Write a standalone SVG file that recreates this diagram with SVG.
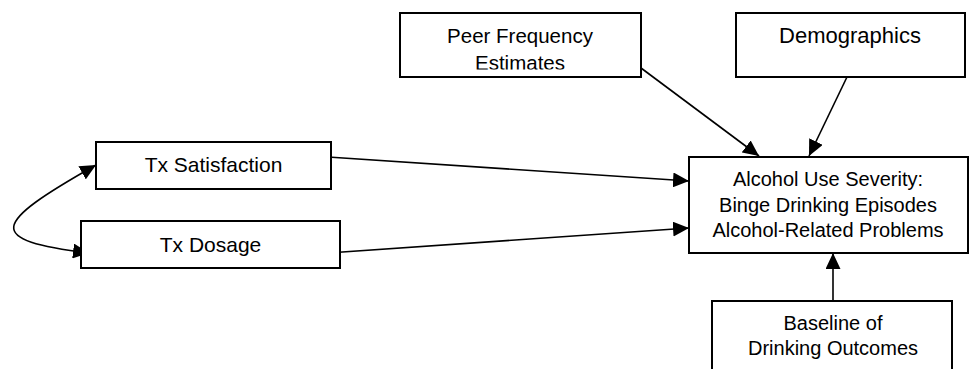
<svg xmlns="http://www.w3.org/2000/svg" width="969" height="369" viewBox="0 0 969 369">
<style>
.box{fill:#fff;stroke:#000;stroke-width:2}
.frame{fill:none;stroke:#000;stroke-width:2}
.lbl{font-family:"Liberation Sans",Arial,sans-serif;font-size:20px;fill:#000;text-anchor:middle}
.tx{font-size:21px}
.peer{font-size:20.5px}
.demo{font-size:22px}
.edge{fill:none;stroke:#000;stroke-width:1.6}
</style>
<defs>
<marker id="ah" viewBox="0 0 16 15" refX="16" refY="7.5" markerWidth="16" markerHeight="15" markerUnits="userSpaceOnUse" orient="auto-start-reverse">
<path d="M0,0 L16,7.5 L0,15 z" fill="#000"/>
</marker>
<clipPath id="peerClip"><rect x="400" y="13" width="241" height="56.5"/></clipPath>
</defs>
<rect width="969" height="369" fill="#fff"/>
<g id="connectors">
<path class="edge" d="M96,165 C -10,225 -15,240 89,253" marker-start="url(#ah)" marker-end="url(#ah)"/>
<path class="edge" d="M328,157 L689,181" marker-end="url(#ah)"/>
<path class="edge" d="M328,253 L689,228" marker-end="url(#ah)"/>
<path class="edge" d="M641,68 L759,156" marker-end="url(#ah)"/>
<path class="edge" d="M847,77 L809,156" marker-end="url(#ah)"/>
<path class="edge" d="M833,301 L833,253" marker-end="url(#ah)"/>
</g>
<g id="peer">
<rect class="box" x="400" y="13" width="241" height="64"/>
<g clip-path="url(#peerClip)">
<text class="lbl peer" x="520" y="43">Peer Frequency</text>
<text class="lbl peer" x="520" y="70">Estimates</text>
</g>
</g>
<g id="demographics">
<rect class="box" x="736" y="13" width="229" height="64"/>
<text class="lbl demo" x="850" y="43">Demographics</text>
</g>
<g id="tx-satisfaction">
<rect class="box" x="96" y="142" width="235" height="47"/>
<text class="lbl tx" x="213.5" y="172">Tx Satisfaction</text>
</g>
<g id="tx-dosage">
<rect class="box" x="81" y="221" width="259" height="47"/>
<text class="lbl tx" x="210.5" y="252">Tx Dosage</text>
</g>
<g id="alcohol">
<rect class="box" x="689" y="157" width="279" height="96"/>
<text class="lbl" x="828" y="186">Alcohol Use Severity:</text>
<text class="lbl" x="828" y="212">Binge Drinking Episodes</text>
<text class="lbl" x="828" y="237">Alcohol-Related Problems</text>
</g>
<g id="baseline">
<rect class="box" x="712" y="301" width="240" height="90"/>
<text class="lbl" x="833" y="330">Baseline of</text>
<text class="lbl" x="833" y="355">Drinking Outcomes</text>
</g>
</svg>
